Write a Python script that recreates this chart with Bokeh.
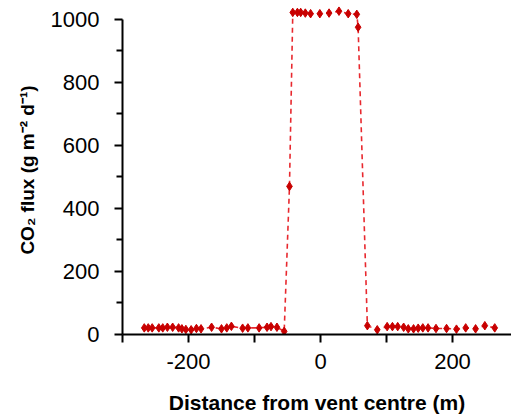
from bokeh.plotting import figure
from bokeh.models import ColumnDataSource, FixedTicker, Range1d
from bokeh.embed import file_html
from bokeh.resources import INLINE

# CO2 flux transect across the vent
distance = [-267, -261, -255, -245, -239, -232, -224, -215, -210, -204, -196, -188,
            -181, -165, -150, -142, -135, -118, -110, -93, -81, -75, -66, -55,
            -47,
            -42, -35, -30, -23, -15, -1, 13, 28, 42, 55,
            57, 71,
            86, 101, 109, 117, 126, 133, 141, 148, 155, 163, 175, 191, 206, 220,
            235, 249, 264]
flux = [21, 21, 21, 21, 21, 23, 23, 21, 18, 16, 15, 19,
        18, 23, 18, 21, 26, 20, 21, 21, 23, 25, 23, 10,
        470,
        1022, 1022, 1022, 1020, 1018, 1018, 1020, 1026, 1018, 1016,
        975, 28,
        15, 25, 25, 25, 23, 18, 18, 20, 21, 21, 19, 19, 17, 21,
        18, 28, 21]

x_major = [-200, 0, 200]
x_major_labels = ["-200", "0", "200"]
x_minor = [-300, -100, 100, 300]
y_major = [0, 200, 400, 600, 800, 1000]
y_minor = [100, 300, 500, 700, 900]

FONT = "Liberation Sans"

src = ColumnDataSource(data=dict(x=distance, y=flux))

p = figure(width=511, height=418, output_backend="svg", toolbar_location=None,
           x_range=Range1d(-300, 289.4), y_range=Range1d(0, 1044),
           min_border_left=122, min_border_right=0, min_border_top=5,
           min_border_bottom=84)
p.outline_line_color = None
p.grid.visible = False
p.background_fill_color = "white"
p.border_fill_color = "white"

p.line("x", "y", source=src, line_color="#e8282e", line_width=1.6,
       line_dash="5 4")
p.scatter("x", "y", source=src, marker="diamond", size=8.5,
          fill_color="#c80000", line_color="#c80000")

for ax in (p.xaxis[0], p.yaxis[0]):
    ax.axis_line_width = 2
    ax.axis_line_color = "black"
    ax.major_tick_line_width = 2
    ax.minor_tick_line_width = 2
    ax.major_tick_line_color = "black"
    ax.minor_tick_line_color = "black"
    ax.major_tick_in = 0
    ax.minor_tick_in = 0
    ax.major_label_text_font = FONT
    ax.major_label_text_font_size = "22px"
    ax.major_label_text_color = "black"
    ax.axis_label_text_font = FONT
    ax.axis_label_text_font_style = "bold"
    ax.axis_label_text_color = "black"

xa = p.xaxis[0]
xa.ticker = FixedTicker(ticks=x_major, minor_ticks=x_minor)
xa.major_label_overrides = dict(zip(x_major, x_major_labels))
xa.major_tick_out = 8
xa.minor_tick_out = 8
xa.major_label_standoff = 11
xa.axis_label = "Distance from vent centre (m)"
xa.axis_label_text_font_size = "21px"
xa.axis_label_standoff = 19

ya = p.yaxis[0]
ya.ticker = FixedTicker(ticks=y_major, minor_ticks=y_minor)
ya.bounds = (0, 1000)
ya.major_tick_out = 8
ya.minor_tick_out = 6
ya.major_label_standoff = 15
ya.axis_label = "CO\u2082 flux (g m\u207b\u00b2 d\u207b\u00b9)"
ya.axis_label_text_font_size = "19px"
ya.axis_label_standoff = 10

open("out.html", "w").write(file_html(p, INLINE))
